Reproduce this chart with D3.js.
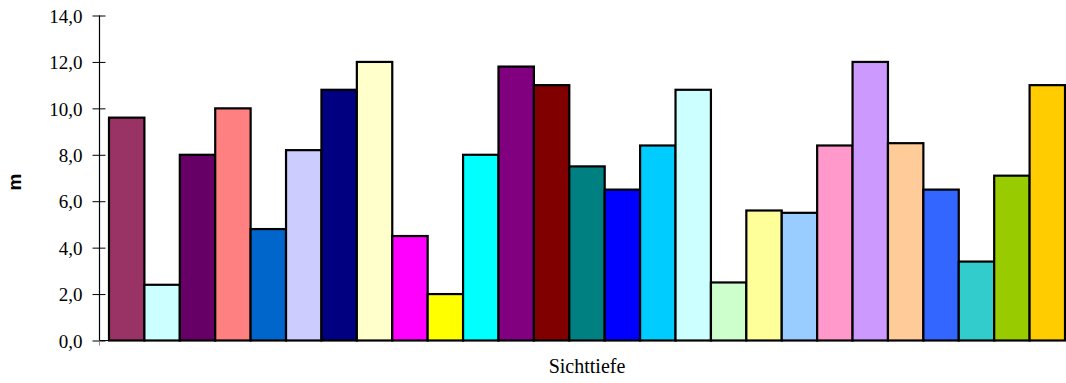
<!DOCTYPE html>
<html><head><meta charset="utf-8">
<script src="https://cdn.jsdelivr.net/npm/d3@7"></script>
<style>
body{margin:0;background:#fff}svg{display:block}
.serif{font-family:"Liberation Serif","DejaVu Serif","Times New Roman",Times,serif}
.sansb{font-family:"Liberation Sans",Arial,sans-serif;font-weight:bold}
</style>
</head><body>
<svg id="c" width="1066" height="383"></svg>
<script>
const categories = d3.range(1, 28).map(String);
const values = [9.6, 2.4, 8.0, 10.0, 4.8, 8.2, 10.8, 12.0, 4.5, 2.0, 8.0, 11.8, 11.0, 7.5, 6.5, 8.4, 10.8, 2.5, 5.6, 5.5, 8.4, 12.0, 8.5, 6.5, 3.4, 7.1, 11.0];
const colors = ["#993366","#CCFFFF","#660066","#FF8080","#0066CC","#CCCCFF","#000080","#FFFFCC","#FF00FF","#FFFF00","#00FFFF","#800080","#800000","#008080","#0000FF","#00CCFF","#CCFFFF","#CCFFCC","#FFFF99","#99CCFF","#FF99CC","#CC99FF","#FFCC99","#3366FF","#33CCCC","#99CC00","#FFCC00"];
const yTicks = [0, 2, 4, 6, 8, 10, 12, 14];
const xTitle = "Sichttiefe";
const yTitle = "m";

const svg = d3.select("#c");
const axisX = 99.5, plotRight = 1066;
const y = d3.scaleLinear().domain([0, 14]).range([340.5, 15.5]);
const x = d3.scaleBand().domain(categories).range([109, 1065]).padding(0);

svg.append("g").selectAll("rect").data(values).join("rect")
  .attr("x", (d, i) => x(categories[i]))
  .attr("y", d => y(d))
  .attr("width", x.bandwidth())
  .attr("height", d => y(0) - y(d))
  .attr("fill", (d, i) => colors[i])
  .attr("stroke", "#000").attr("stroke-width", 2.2);

const yAxis = d3.axisLeft(y).tickValues(yTicks).tickSize(0)
  .tickFormat(d => d3.format(".1f")(d).replace(".", ","));
const gy = svg.append("g").attr("transform", `translate(${axisX},0)`).call(yAxis)
  .attr("font-family", null).attr("font-size", null);
gy.select(".domain").remove();
gy.selectAll(".tick text").attr("class", "serif").attr("x", -17).attr("dy", "0.35em")
  .style("font-size", "19px").attr("fill", "#000");
gy.selectAll(".tick").append("line").attr("x1", -7).attr("x2", 6).attr("stroke", "#000").attr("stroke-width", 1);
svg.append("line").attr("x1", axisX).attr("x2", axisX).attr("y1", y(14)).attr("y2", y(0)).attr("stroke", "#000").attr("stroke-width", 1.2);
svg.append("line").attr("x1", axisX).attr("x2", axisX).attr("y1", y(0)).attr("y2", y(0) + 5).attr("stroke", "#888").attr("stroke-width", 1);
svg.append("line").attr("x1", axisX).attr("x2", plotRight).attr("y1", y(0)).attr("y2", y(0)).attr("stroke", "#000").attr("stroke-width", 1.2);

svg.append("text").attr("class", "serif").attr("x", 587).attr("y", 373).attr("text-anchor", "middle")
  .style("font-size", "20px").text(xTitle);
svg.append("text").attr("class", "sansb").attr("transform", "translate(21,182) rotate(-90)").attr("text-anchor", "middle")
  .style("font-size", "19px").text(yTitle);
</script>
</body></html>
